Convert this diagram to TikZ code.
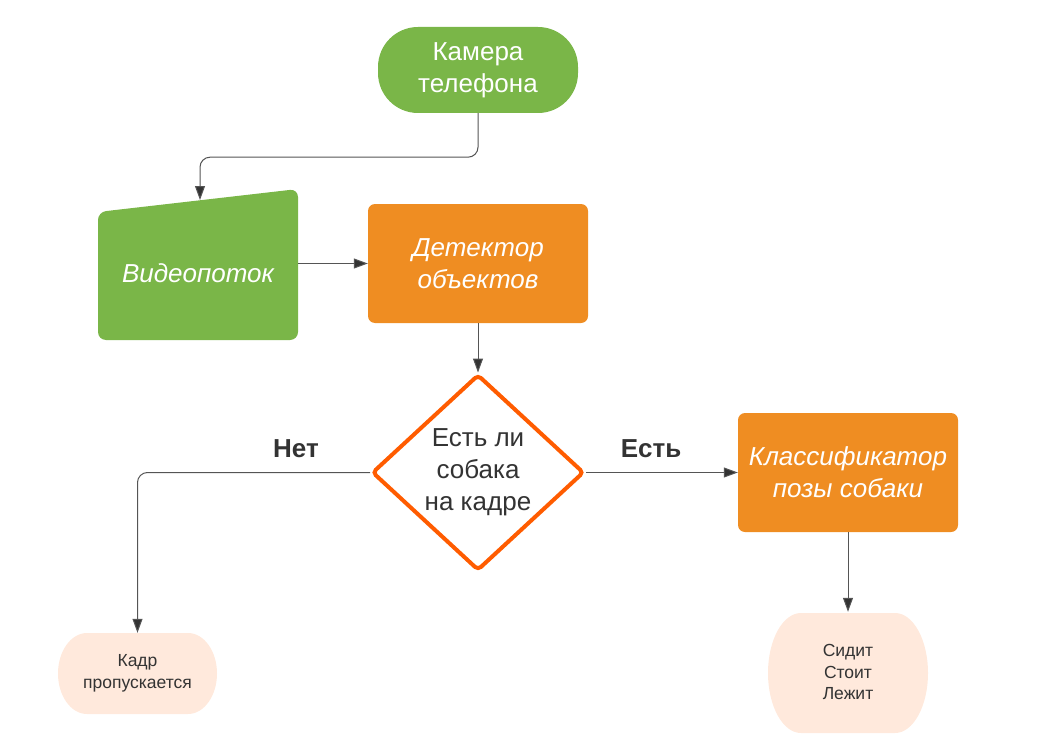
\documentclass[tikz,border=0pt]{standalone}
\usepackage{fontspec}
\setmainfont{Liberation Sans}
\usetikzlibrary{arrows.meta,shapes.geometric}

\definecolor{lgreen}{HTML}{7AB648}
\definecolor{lorange}{HTML}{EF8D22}
\definecolor{lred}{HTML}{FF5C00}
\definecolor{lpeach}{HTML}{FFE9DC}
\definecolor{ltext}{HTML}{333333}
\definecolor{lline}{HTML}{555555}

\tikzset{
	procbox/.style={rectangle,fill=lorange,rounded corners=7pt,minimum width=220pt,minimum height=119pt,
		text=white,align=center,font=\fontsize{26}{32}\selectfont\itshape},
	termtext/.style={inner sep=0pt,align=center,text=ltext,font=\fontsize{17.5}{21.5}\selectfont},
	decision/.style={diamond,draw=lred,line width=4pt,rounded corners=4pt,fill=white,minimum width=212pt,
		minimum height=196pt,inner sep=0pt,align=center,text=ltext,font=\fontsize{26}{32}\selectfont},
	lbl/.style={text=ltext,font=\fontsize{26}{30}\selectfont\bfseries},
	flow/.style={draw=lline,line width=1pt,rounded corners=10pt,-{Triangle[length=14pt,width=10pt,fill=ltext]}}
}

\begin{document}
\begin{tikzpicture}[x=1pt,y=-1pt]

\useasboundingbox (0,0) rectangle (1059,754);

% The start and the video stream
\node[rectangle,fill=lgreen,rounded corners=40pt,minimum width=200pt,minimum height=86pt,text=white,
	align=center,font=\fontsize{26}{32}\selectfont] (cam) at (478,70) {Камера\\телефона};

\fill[lgreen,rounded corners=8pt] (98,212) -- (298,189) -- (298,340) -- (98,340) -- cycle;
\node[minimum width=200pt,text=white,font=\fontsize{26}{32}\selectfont\itshape] (video) at (198,273) {Видеопоток};
\coordinate (vtop) at (200,200);

% The process boxes
\node[procbox] (det) at (478,263.5) {Детектор\\объектов};
\node[decision] (dec) at (478,472.5) {Есть ли\\собака\\на кадре};
\node[procbox] (cls) at (848,472.5) {Классификатор\\позы собаки};

% The end terminals
\fill[lpeach] (87,633) -- (188,633) arc[start angle=90,end angle=-90,x radius=29pt,y radius=40.5pt]
	-- (87,714) arc[start angle=270,end angle=90,x radius=29pt,y radius=40.5pt] -- cycle;
\node[termtext,minimum height=81pt] (skip) at (137.5,673.5) {Кадр\\пропускается};

\fill[lpeach] (801,613) -- (895,613) arc[start angle=90,end angle=-90,x radius=33pt,y radius=60pt]
	-- (801,733) arc[start angle=270,end angle=90,x radius=33pt,y radius=60pt] -- cycle;
\node[termtext,minimum height=120pt] (poses) at (848,672) {Сидит\\Стоит\\Лежит};

% The branch labels
\node[lbl] (no) at (296,449) {Нет};
\node[lbl] (yes) at (651,449) {Есть};

% The connectors
\draw[flow] (cam.south) -- ++(0,44) -| (vtop);
\draw[flow] (det.west -| video.east) -- (det.west);
\draw[flow] (det.south) -- (dec.north);
\draw[flow] (dec.west) -| (skip.north);
\draw[flow] (dec.east) -- (cls.west);
\draw[flow] (cls.south) -- (poses.north);

\end{tikzpicture}
\end{document}
